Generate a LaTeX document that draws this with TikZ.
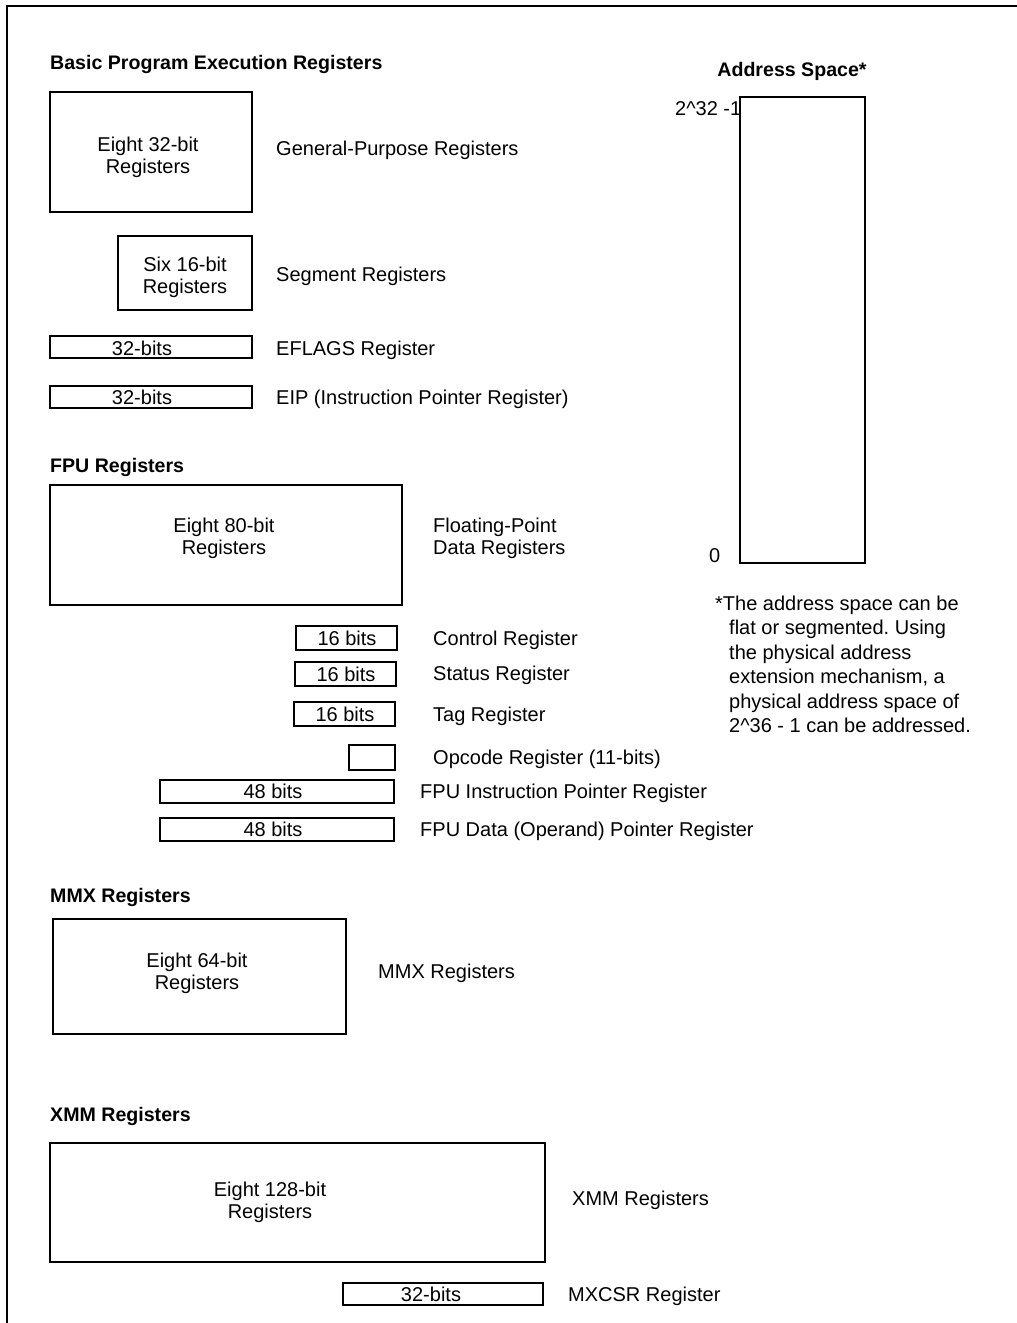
\documentclass[tikz,border=0pt]{standalone}
\usepackage{fontspec}
\setmainfont{Liberation Sans}
\frenchspacing
\newcommand\regfont{\fontsize{20}{22}\selectfont}
\newcommand\headfont{\fontsize{19.6}{22}\selectfont\bfseries}
\begin{document}
\begin{tikzpicture}[x=1pt,y=-1pt,
  reg/.style={draw, line width=2pt, inner sep=0pt, fill=white},
  intext/.style={align=center, inner sep=0pt, font=\regfont},
  lbl/.style={anchor=west, inner sep=0pt, font=\regfont, text height=14pt, text depth=0pt},
  lbltwo/.style={anchor=west, inner sep=0pt, font=\regfont, align=left},
  head/.style={anchor=west, inner sep=0pt, font=\headfont, text height=14pt, text depth=0pt},
  frame/.style={line width=2pt}]
\useasboundingbox (0,0) rectangle (1017,1323);
% frame
\coordinate (fbl) at (7,1323);
\coordinate (ftl) at (7,6);
\coordinate (ftr) at (1017,6);
\draw[frame] (fbl) -- (ftl) -- (ftr);

% Basic program execution registers
\node[head] (h1) at (50,62) {Basic Program Execution Registers};
\node[reg, minimum width=202, minimum height=120] (gpr) at (151,152) {};
\node[intext] (gprt) at (148,157) {Eight 32-bit\\Registers};
\node[lbl] (gprl) at (276,148) {General-Purpose Registers};

\node[reg, minimum width=134, minimum height=74] (seg) at (185,273) {};
\node[intext] (segt) at (185,277) {Six 16-bit\\Registers};
\node[lbl] (segl) at (276,274) {Segment Registers};

\node[reg, minimum width=202, minimum height=22] (efl) at (151,347) {};
\node[lbl, anchor=center] (eflt) at (142,348) {32-bits};
\node[lbl] (efll) at (276,348) {EFLAGS Register};

\node[reg, minimum width=202, minimum height=22] (eip) at (151,397) {};
\node[lbl, anchor=center] (eipt) at (142,397) {32-bits};
\node[lbl] (eipl) at (276,397) {EIP (Instruction Pointer Register)};

% FPU
\node[head] (h2) at (50,465) {FPU Registers};
\node[reg, minimum width=352, minimum height=120] (fpu) at (226,545) {};
\node[intext] (fput) at (224,538) {Eight 80-bit\\Registers};
\node[lbltwo] (fpul) at (433,538) {Floating-Point\\Data Registers};

\node[reg, minimum width=101, minimum height=24] (ctrl) at (346.5,638) {};
\node[lbl, anchor=center] (ctrlt) at (347,638) {16 bits};
\node[lbl] (ctrll) at (433,638) {Control Register};

\node[reg, minimum width=101, minimum height=24] (stat) at (345.5,674) {};
\node[lbl, anchor=center] (statt) at (346,674) {16 bits};
\node[lbl] (statl) at (433,673) {Status Register};

\node[reg, minimum width=101, minimum height=24] (tag) at (344.5,714) {};
\node[lbl, anchor=center] (tagt) at (345,714) {16 bits};
\node[lbl] (tagl) at (433,714) {Tag Register};

\node[reg, minimum width=46, minimum height=25] (opc) at (372,757.5) {};
\node[lbl] (opcl) at (433,757) {Opcode Register (11-bits)};

\node[reg, minimum width=234, minimum height=23] (fip) at (277,791.5) {};
\node[lbl, anchor=center] (fipt) at (273,791) {48 bits};
\node[lbl] (fipl) at (420,791) {FPU Instruction Pointer Register};

\node[reg, minimum width=234, minimum height=23] (fdp) at (277,829.5) {};
\node[lbl, anchor=center] (fdpt) at (273,829) {48 bits};
\node[lbl] (fdpl) at (420,829) {FPU Data (Operand) Pointer Register};

% MMX
\node[head] (h3) at (50,895) {MMX Registers};
\node[reg, minimum width=293, minimum height=115] (mmx) at (199.5,976.5) {};
\node[intext] (mmxt) at (197,973) {Eight 64-bit\\Registers};
\node[lbl] (mmxl) at (378,971) {MMX Registers};

% XMM
\node[head] (h4) at (50,1114) {XMM Registers};
\node[reg, minimum width=495, minimum height=119] (xmm) at (297.5,1202.5) {};
\node[intext] (xmmt) at (270,1202) {Eight 128-bit\\Registers};
\node[lbl] (xmml) at (572,1198) {XMM Registers};

\node[reg, minimum width=200, minimum height=22] (mxcsr) at (443,1294) {};
\node[lbl, anchor=center] (mxcsrt) at (431,1294) {32-bits};
\node[lbl] (mxcsrl) at (568,1294) {MXCSR Register};

% Address space
\node[head, anchor=center] (h5) at (792,69) {Address Space*};
\node[lbl] (top) at (675,108) {2\^{}32 -1};
\node[reg, minimum width=125, minimum height=466] (addr) at (802.5,330) {};
\node[lbl] (zero) at (709,555) {0};

\node[lbl] (n1) at (715,603) {*The address space can be};
\node[lbl] (n2) at (729,627.5) {flat or segmented. Using};
\node[lbl] (n3) at (729,652) {the physical address};
\node[lbl] (n4) at (729,676.5) {extension mechanism, a};
\node[lbl] (n5) at (729,701) {physical address space of};
\node[lbl] (n6) at (729,725.5) {2\^{}36 - 1 can be addressed.};
\end{tikzpicture}
\end{document}
